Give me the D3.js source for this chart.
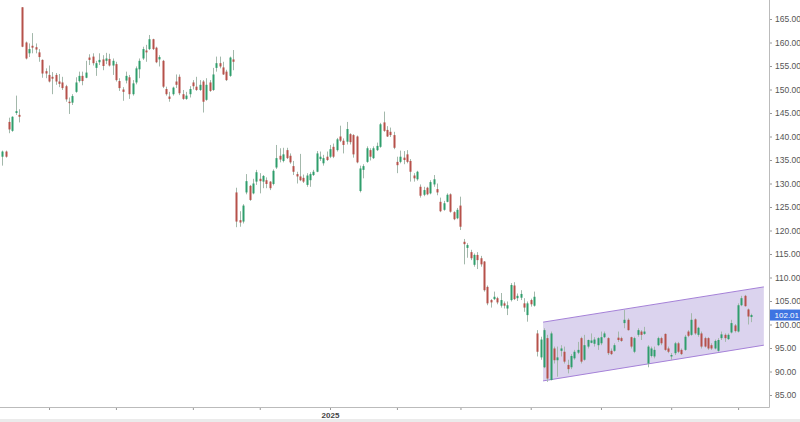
<!DOCTYPE html>
<html>
<head>
<meta charset="utf-8">
<script src="https://cdn.jsdelivr.net/npm/d3@7/dist/d3.min.js"></script>
<style>
  html, body { margin: 0; padding: 0; background: #fff; }
  svg { display: block; }
</style>
</head>
<body>
<svg id="chart" width="800" height="422"></svg>
<script>
// ---- DATA (daily candles, Aug 13 2024 .. Jul 2025) ----
const opens = [
135.7,136.8,143.1,141.2,145.0,144.6,167.5,160.0,157.7,159.3,159.0,157.9,156.3,153.9,153.1,152.7,153.1,151.7,151.5,150.7,
147.4,147.2,149.5,151.8,152.9,152.5,156.8,157.0,154.6,155.8,156.4,156.1,156.5,155.1,155.4,151.8,150.0,151.9,152.6,149.0,
151.5,154.3,156.6,158.3,158.6,160.7,158.9,156.4,156.1,150.1,148.5,149.0,151.7,152.7,149.0,148.0,149.0,151.5,150.6,149.9,
151.7,147.8,151.5,149.9,154.6,155.6,154.7,153.8,152.9,156.4,128.1,122.2,121.9,128.1,129.5,127.9,130.4,131.0,130.4,130.7,
130.4,129.9,133.4,135.9,134.8,137.1,135.9,133.7,132.0,131.5,131.2,129.7,130.7,131.8,132.5,135.2,134.3,135.7,135.7,137.8,
137.1,140.0,139.1,138.9,140.5,140.3,140.0,128.4,132.9,134.6,137.1,135.4,137.1,137.8,143.0,141.4,141.0,140.3,134.6,134.6,
135.5,136.2,134.8,131.7,130.9,129.3,127.6,129.1,127.9,129.8,128.8,126.1,124.4,126.1,127.7,123.9,122.6,125.3,117.6,116.3,
115.4,112.7,114.8,114.1,113.4,108.0,105.2,105.4,105.6,104.0,104.5,103.4,105.2,108.3,105.6,105.7,104.5,102.0,105.2,104.0,
98.1,93.0,90.9,97.1,88.2,94.9,92.4,94.4,94.2,91.4,90.9,92.8,94.0,97.1,92.5,95.3,96.1,95.9,95.6,96.0,
97.3,97.1,94.4,94.4,97.2,97.1,100.3,101.0,97.3,94.2,97.8,98.5,98.0,91.7,93.3,93.2,95.6,97.1,98.0,94.9,
93.2,93.9,96.0,94.6,94.6,98.5,97.8,101.1,97.8,98.1,97.1,97.1,95.6,94.9,94.4,97.1,97.8,96.9,98.3,99.8,
98.5,104.1,106.1,103.2,101.6
];
const closes = [
136.8,135.7,141.5,144.2,145.4,144.2,159.1,156.6,158.6,158.9,158.5,156.9,153.4,153.4,151.7,152.3,151.7,151.2,150.3,147.9,
147.1,148.6,151.5,152.9,151.8,153.6,156.3,155.6,155.6,156.3,155.0,156.6,155.1,156.1,152.0,150.3,149.5,152.9,149.0,151.3,
154.5,156.1,158.6,157.9,160.7,158.6,155.8,156.9,150.6,149.0,148.0,150.4,151.0,149.2,148.0,148.7,150.1,150.7,149.9,151.0,
147.4,151.0,149.7,153.2,155.6,154.9,153.2,152.0,156.8,155.9,121.9,121.7,125.3,130.5,126.5,130.0,132.4,130.5,131.6,129.9,
129.0,132.7,135.4,135.1,136.2,135.4,134.5,132.5,131.5,130.7,130.4,131.7,132.0,132.5,136.4,135.7,135.4,135.0,137.3,135.7,
139.4,139.1,138.2,141.6,138.8,136.2,134.5,133.2,133.7,137.5,135.7,137.5,138.0,142.6,141.2,140.0,140.3,137.6,133.9,135.7,
135.0,134.6,132.5,131.1,132.5,127.4,128.6,127.7,130.3,130.9,128.1,124.1,125.8,127.6,124.0,122.4,124.4,120.8,117.1,116.9,
114.1,114.8,113.7,112.8,107.3,104.5,104.7,105.9,104.7,105.2,104.0,104.1,108.4,105.4,106.1,106.5,103.6,104.5,104.3,105.9,
94.2,96.8,98.8,88.5,98.1,92.4,93.0,94.9,92.1,90.5,93.3,94.2,94.6,92.1,95.6,96.7,96.6,96.8,97.1,97.3,
98.1,93.9,93.7,95.6,96.7,96.5,101.0,98.8,95.3,97.1,98.8,97.8,98.5,95.3,94.9,94.6,97.1,96.0,94.6,94.2,
93.5,96.0,94.2,93.7,97.4,97.6,101.0,98.1,99.3,95.3,95.3,94.9,94.9,96.5,96.7,97.9,97.1,97.8,100.3,98.6,
104.1,105.6,103.9,101.7,102.01
];
const highs = [
137.0,137.0,144.0,144.3,148.7,145.8,167.5,160.2,159.8,162.0,159.8,158.6,156.4,154.5,155.1,153.7,153.5,153.3,152.7,151.0,
148.3,149.0,152.6,153.8,153.8,156.1,157.5,157.7,156.1,157.7,157.3,157.8,157.6,156.6,155.9,152.4,150.5,153.8,153.1,152.0,
154.9,156.6,159.1,159.5,161.6,160.8,159.1,157.3,156.3,150.6,149.5,150.6,153.2,153.2,149.9,149.5,150.7,152.0,152.7,152.0,
152.0,152.4,152.0,154.6,157.0,157.0,155.9,154.2,157.0,158.4,129.1,124.1,125.6,132.0,129.7,131.0,132.9,132.2,131.8,131.3,
130.5,133.0,138.2,137.5,137.6,137.6,136.4,134.8,132.5,136.3,131.9,132.2,132.4,132.9,136.9,136.8,136.1,136.8,138.2,138.5,
139.7,142.3,139.6,143.1,140.7,140.5,140.2,133.8,134.1,137.9,137.5,137.9,138.7,142.9,145.3,142.2,141.9,141.0,135.7,137.0,
136.9,137.1,135.2,132.2,132.7,129.8,129.3,129.3,130.7,131.8,130.0,127.0,126.3,127.9,127.9,124.1,124.8,127.2,118.2,117.3,
115.9,115.1,115.4,114.6,113.5,108.3,105.4,107.0,105.9,106.7,104.9,104.9,108.8,109.0,106.6,107.3,105.6,104.9,105.5,107.0,
98.8,97.4,99.2,97.8,98.5,95.3,95.3,95.6,95.3,92.5,93.7,94.6,96.3,97.4,97.8,96.8,98.1,97.3,97.3,98.5,
98.5,97.3,94.9,96.0,98.5,97.4,103.1,101.3,97.4,97.4,99.2,98.8,99.5,95.6,95.3,95.3,97.4,97.4,98.1,95.3,
93.9,96.3,96.3,94.9,97.8,98.8,102.4,101.3,99.5,98.5,97.4,97.3,96.0,96.8,97.1,98.5,98.1,98.1,101.0,100.1,
104.5,106.1,106.3,103.4,102.3
];
const lows = [
133.8,135.5,140.7,141.0,144.6,143.0,159.0,156.4,156.9,157.7,157.7,155.9,152.5,152.4,151.5,149.0,151.0,150.5,149.9,147.4,
144.8,146.7,149.3,151.5,150.9,152.4,155.2,155.1,152.9,155.2,154.1,155.4,154.9,153.1,151.7,149.7,147.6,151.3,148.0,148.7,
151.1,152.4,156.3,155.9,158.4,158.4,155.6,154.9,150.3,148.7,147.4,148.7,150.3,148.8,147.8,147.8,148.3,150.0,149.7,149.7,
145.1,147.6,149.5,149.7,153.8,154.5,153.1,151.8,152.7,154.1,120.7,120.8,121.5,127.7,126.3,127.7,129.7,127.9,129.0,129.0,
128.6,129.6,133.1,134.5,134.5,135.2,134.2,131.8,130.0,130.5,130.1,129.3,129.3,131.6,132.4,134.8,133.8,134.8,135.4,135.4,
136.8,138.8,136.4,138.3,138.3,135.5,134.3,128.1,131.1,134.4,134.9,135.2,136.9,137.6,141.0,139.9,139.9,137.3,132.2,134.3,
134.1,134.3,130.4,130.4,130.6,127.0,127.3,127.5,127.7,129.3,127.5,123.9,124.2,126.0,123.8,122.2,122.4,120.1,112.8,114.2,
113.7,112.3,111.8,112.3,107.0,104.1,103.6,105.2,104.3,103.6,103.4,102.0,104.9,105.2,105.0,105.2,102.7,100.6,103.8,103.8,
93.2,92.5,90.7,87.8,88.1,91.7,88.9,93.2,91.7,89.6,90.5,92.5,93.7,91.7,92.3,94.9,96.0,95.3,94.6,95.6,
97.1,93.5,93.5,94.2,96.3,96.3,99.2,98.7,94.9,93.9,97.4,96.7,97.8,90.9,93.0,92.8,95.4,95.6,94.4,93.9,
92.5,93.5,93.9,93.5,94.4,97.3,97.6,97.8,97.4,94.9,95.1,94.6,94.6,94.7,94.2,96.7,96.3,96.7,98.1,98.3,
98.3,103.9,103.8,100.0,100.5
];
// month start positions (trading-day index) and their labels
const monthTickIndex = [14, 34, 57, 77, 98, 118, 137, 158, 179, 200, 220];
const monthTickLabel = ["", "", "", "", "2025", "", "", "", "", "", ""];
// price axis ticks
const priceTicks = [85, 90, 95, 100, 105, 110, 115, 120, 125, 130, 135, 140, 145, 150, 155, 160, 165];
// rising channel (trading-day index, upper and lower prices)
const channelIndex = [161.7, 227.7];
const channelUpper = [100.5, 108.0];
const channelLower = [88.0, 95.6];
const lastPrice = 102.01;

// ---- LAYOUT ----
const svg = d3.select("#chart");
const W = 800, H = 422;
const plotRight = 769, plotBottom = 407;
const FONT = "'Liberation Sans', Arial, sans-serif";

const x = d3.scaleLinear().domain([0, opens.length - 1]).range([2.2, 2.2 + 3.345 * (opens.length - 1)]);
const y = d3.scaleLinear().domain([85, 165]).range([395, 19]);

// bottom gray strip
svg.append("rect").attr("x", 0).attr("y", 419).attr("width", W).attr("height", 3).attr("fill", "#ebebeb");

// channel
const chPts = [
  [x(channelIndex[0]), y(channelUpper[0])],
  [x(channelIndex[1]), y(channelUpper[1])],
  [x(channelIndex[1]), y(channelLower[1])],
  [x(channelIndex[0]), y(channelLower[0])]
];
svg.append("polygon")
  .attr("points", chPts.map(p => p.join(",")).join(" "))
  .attr("fill", "rgba(160,140,210,0.38)");
const line = d3.line();
svg.append("path").attr("d", line([chPts[0], chPts[1]])).attr("stroke", "#a581d8").attr("stroke-width", 1).attr("fill", "none");
svg.append("path").attr("d", line([chPts[3], chPts[2]])).attr("stroke", "#a581d8").attr("stroke-width", 1).attr("fill", "none");

// candles
const idx = d3.range(opens.length);
const g = svg.append("g");
g.selectAll("line.wick").data(idx).join("line")
  .attr("class", "wick")
  .attr("x1", i => Math.round(x(i)) + 0.5).attr("x2", i => Math.round(x(i)) + 0.5)
  .attr("y1", i => y(highs[i])).attr("y2", i => y(lows[i]))
  .attr("stroke", "#a3b8ab").attr("stroke-width", 1);
g.selectAll("rect.body").data(idx).join("rect")
  .attr("class", "body")
  .attr("x", i => Math.round(x(i)) - 0.5)
  .attr("width", 2)
  .attr("y", i => y(Math.max(opens[i], closes[i])))
  .attr("height", i => Math.max(1, Math.abs(y(opens[i]) - y(closes[i]))))
  .attr("fill", i => closes[i] >= opens[i] ? "#2f9e6c" : "#b6514a");

// right price axis
const yAxis = d3.axisRight(y).tickValues(priceTicks).tickFormat(d3.format(".2f")).tickSize(3).tickPadding(3);
const ya = svg.append("g").attr("transform", `translate(${plotRight},0)`).call(yAxis);
ya.select(".domain").remove();
ya.selectAll("line").attr("stroke", "#999");
ya.selectAll("text").attr("fill", "#555").style("font", `8.5px ${FONT}`);
svg.append("line").attr("x1", plotRight + 0.5).attr("x2", plotRight + 0.5).attr("y1", 0).attr("y2", plotBottom + 0.5)
  .attr("stroke", "#bbb").attr("stroke-width", 1);

// bottom time axis
const xAxis = d3.axisBottom(x).tickValues(monthTickIndex)
  .tickFormat((d, k) => monthTickLabel[k]).tickSize(3).tickPadding(2);
const xa = svg.append("g").attr("transform", `translate(0,${plotBottom})`).call(xAxis);
xa.select(".domain").remove();
xa.selectAll("line").attr("stroke", "#999");
xa.selectAll("text").attr("fill", "#444").style("font", `bold 8px ${FONT}`);
svg.append("line").attr("x1", 0).attr("x2", plotRight + 0.5).attr("y1", plotBottom + 0.5).attr("y2", plotBottom + 0.5)
  .attr("stroke", "#bbb").attr("stroke-width", 1);

// last price label
const ly = y(lastPrice);
svg.append("rect").attr("x", plotRight + 1).attr("y", ly - 5.5).attr("width", W - plotRight - 1).attr("height", 11).attr("fill", "#3e74e2");
svg.append("text").attr("x", W - 1).attr("y", ly + 3).attr("fill", "#fff").attr("text-anchor", "end")
  .style("font", `8px ${FONT}`).text(d3.format(".2f")(lastPrice));
</script>
</body>
</html>
